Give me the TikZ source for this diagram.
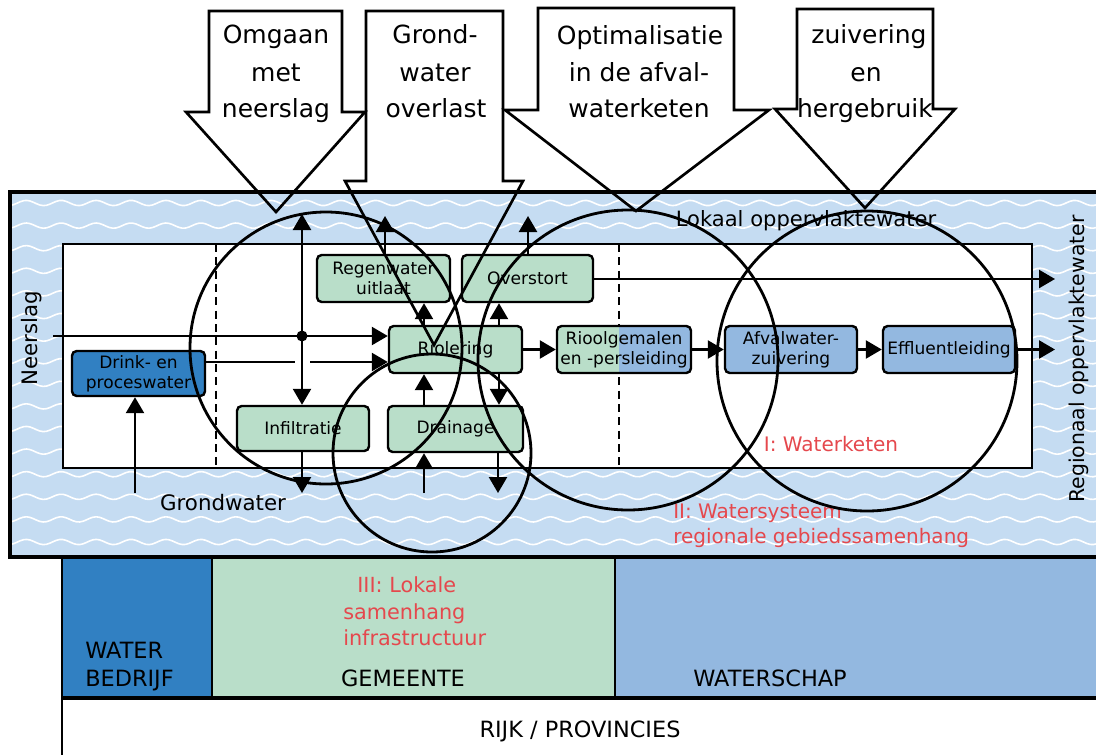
\documentclass[tikz,border=0pt]{standalone}
\usepackage{fontspec}
\setmainfont{DejaVu Sans}
\usetikzlibrary{arrows.meta}
\definecolor{bgblue}{HTML}{C5DCF2}
\definecolor{gfill}{HTML}{B9DEC9}
\definecolor{dblue}{HTML}{3180C2}
\definecolor{mblue}{HTML}{93B8E0}
\definecolor{redc}{HTML}{E5484D}
\begin{document}
\begin{tikzpicture}[x=0.75pt,y=-0.75pt,
  box/.style={draw, line width=1.8pt, rounded corners=3.5pt, inner sep=0pt, align=center,
    font=\fontsize{12.8}{15}\selectfont, fill=gfill},
  arr/.style={line width=1.8pt, -{Triangle[length=12pt,width=13.5pt]}},
  arrboth/.style={line width=1.8pt, {Triangle[length=12pt,width=13.5pt]}-{Triangle[length=12pt,width=13.5pt]}},
  circ/.style={line width=2.1pt},
  blockarr/.style={line width=2pt, line join=miter},
  toptxt/.style={anchor=base, inner sep=0pt, font=\fontsize{18.75}{22}\selectfont},
  lbl/.style={anchor=base, inner sep=0pt, font=\fontsize{16}{19}\selectfont},
  redlbl/.style={inner sep=0pt, text=redc, font=\fontsize{15}{18}\selectfont},
  bottxt/.style={anchor=base, inner sep=0pt, font=\fontsize{16.8}{20}\selectfont},
  dashln/.style={line width=1.7pt, dash pattern=on 6pt off 4pt}
]
\useasboundingbox (0,0) rectangle (1096,754);

% ---- blue water area with waves
\fill[bgblue] (10,192) rectangle (1100,557);
\begin{scope}
  \clip (10,192) rectangle (1100,557);
  \foreach \k in {0,...,15} {
    \draw[white, line width=1.2pt] plot[domain=10:1100, samples=330] (\x, {203+22.6*\k + 2.6*sin(\x*10.3)});
  }
\end{scope}
\draw[line width=2.4pt] (1100,192) -- (10,192) -- (10,557) -- (1100,557);

% ---- inner white area
\draw[line width=1.9pt, fill=white] (63,244) rectangle (1032,468);
\draw[dashln] (216,244) -- (216,468);
\draw[dashln] (619,244) -- (619,468);

% ---- bottom organisation bands
\fill[dblue] (62,559) rectangle (212,698);
\fill[gfill] (212,559) rectangle (615,698);
\fill[mblue] (615,559) rectangle (1100,698);
\draw[line width=2.2pt] (62,557) -- (62,760);
\draw[line width=2.2pt] (212,557) -- (212,698);
\draw[line width=2.2pt] (615,557) -- (615,698);
\draw[line width=2.4pt] (62,698) -- (1100,698);

\node[bottxt, anchor=base west] (wb1) at (85,658) {WATER};
\node[bottxt, anchor=base west] (wb2) at (85,686) {BEDRIJF};
\node[bottxt] (gem) at (403,686) {GEMEENTE};
\node[bottxt] (wsch) at (770,686) {WATERSCHAP};
\node[bottxt] (rijk) at (580,737) {RIJK / PROVINCIES};
\node[redlbl, anchor=base west, font=\fontsize{15.6}{18}\selectfont] (r3a) at (357,592) {III: Lokale};
\node[redlbl, anchor=base west, font=\fontsize{15.6}{18}\selectfont] (r3b) at (343,619) {samenhang};
\node[redlbl, anchor=base west, font=\fontsize{15.6}{18}\selectfont] (r3c) at (343,645) {infrastructuur};

% ---- split fill for Rioolgemalen
\begin{scope}
  \clip[rounded corners=3.5pt] (557,326) rectangle (691,373);
  \fill[gfill] (557,326) rectangle (619,373);
  \fill[mblue] (619,326) rectangle (691,373);
\end{scope}

% ---- nodes
\node[box, fill=dblue, minimum width=99.75pt, minimum height=33.75pt] (drink) at (138.5,373.5) {Drink- en\\proceswater};
\node[box, minimum width=99.75pt, minimum height=35.25pt] (reg) at (383.5,278.5) {Regenwater\\uitlaat};
\node[box, minimum width=98.25pt, minimum height=35.25pt] (ovs) at (527.5,278.5) {Overstort};
\node[box, minimum width=99.75pt, minimum height=35.25pt] (rio) at (455.5,349.5) {Riolering};
\node[box, fill=none, minimum width=100.5pt, minimum height=35.25pt] (rg) at (624,349.5) {Rioolgemalen\\en -persleiding};
\node[box, fill=mblue, minimum width=99pt, minimum height=35.25pt] (aw) at (791,349.5) {Afvalwater-\\zuivering};
\node[box, fill=mblue, minimum width=99pt, minimum height=35.25pt] (ef) at (949,349.5) {Effluentleiding};
\node[box, minimum width=99pt, minimum height=33.75pt] (inf) at (303,428.5) {Infiltratie};
\node[box, minimum width=101.25pt, minimum height=34.5pt] (dr) at (455.5,429) {Drainage};

% ---- coordinates
\coordinate (nstart) at (53,336);
\coordinate (dot) at (302,336);
\coordinate (vtop) at (302,214);
\coordinate (gapL) at (295,362);
\coordinate (gapR) at (310,362);
\coordinate (gw) at (135,493);
\coordinate (infd) at (302,493);
\coordinate (ru) at (385,216);
\coordinate (ou) at (528,216);
\coordinate (xL) at (424,0);
\coordinate (xR) at (499,0);
\coordinate (oright) at (1055,279);
\coordinate (eright) at (1055,349.5);
\coordinate (bu) at (424,493);
\coordinate (bd) at (498,493);

% ---- connectors
\draw[arr] (nstart) -- (nstart -| rio.west);
\draw[arrboth] (vtop) -- (dot |- inf.north);
\fill (dot) circle[radius=5.5];
\draw[line width=1.8pt] (drink.east |- gapL) -- (gapL);
\draw[arr] (gapR) -- (gapR -| rio.west);
\draw[arr] (gw) -- (gw |- drink.south);
\draw[arr] (inf.south -| infd) -- (infd);
\draw[arr] (ru |- reg.north) -- (ru);
\draw[arr] (rio.north -| xL) -- (reg.south -| xL);
\draw[arr] (rio.north -| xR) -- (ovs.south -| xR);
\draw[arr] (ou |- ovs.north) -- (ou);
\draw[arr] (ovs.east |- oright) -- (oright);
\draw[arr] (rio.east) -- (rg.west);
\draw[arr] (rg.east) -- (aw.west);
\draw[arr] (aw.east) -- (ef.west);
\draw[arr] (ef.east) -- (eright);
\draw[arr] (dr.north -| xL) -- (rio.south -| xL);
\draw[arr] (rio.south -| xR) -- (dr.north -| xR);
\draw[arr] (bu) -- (bu |- dr.south);
\draw[arr] (dr.south -| bd) -- (bd);

% ---- labels
\node[lbl, rotate=90, anchor=center] (neer) at (32,338) {Neerslag};
\node[lbl, rotate=90, anchor=center, font=\fontsize{15.3}{18}\selectfont] (regopp) at (1079,359) {Regionaal oppervlaktewater};
\node[lbl, font=\fontsize{15.8}{19}\selectfont] (lokopp) at (806,226) {Lokaal oppervlaktewater};
\node[lbl] (grondw) at (223,510) {Grondwater};
\node[redlbl, anchor=base] (wk) at (831,451) {I: Waterketen};
\node[redlbl, anchor=base west] (ws1) at (673,518) {II: Watersysteem};
\node[redlbl, anchor=base west] (ws2) at (673,543) {regionale gebiedssamenhang};

% ---- circles
\draw[circ] (326,348) circle[radius=136];
\draw[circ] (432,453) circle[radius=99];
\draw[circ] (628,360) circle[radius=150];
\draw[circ] (867,361) circle[radius=150];

% ---- block arrows
\draw[blockarr] (209,11) -- (342,11) -- (342,112) -- (365,112) -- (276,212) -- (186,112) -- (209,112) -- cycle;
\draw[blockarr] (366,11) -- (503,11) -- (503,181) -- (523,181) -- (434,345) -- (345,181) -- (366,181) -- cycle;
\draw[blockarr] (538,8) -- (734,8) -- (734,110) -- (769,110) -- (636,211) -- (505,110) -- (538,110) -- cycle;
\draw[blockarr] (797,9) -- (933,9) -- (933,109) -- (955,109) -- (865,208) -- (775,109) -- (797,109) -- cycle;

\node[toptxt] (t1a) at (276,43) {Omgaan};
\node[toptxt] (t1b) at (276,81) {met};
\node[toptxt] (t1c) at (276,117) {neerslag};
\node[toptxt] (t2a) at (435,43) {Grond-};
\node[toptxt] (t2b) at (435,81) {water};
\node[toptxt] (t2c) at (436,117) {overlast};
\node[toptxt] (t3a) at (640,44) {Optimalisatie};
\node[toptxt] (t3b) at (639,81) {in de afval-};
\node[toptxt] (t3c) at (639,117) {waterketen};
\node[toptxt] (t4a) at (869,43) {zuivering};
\node[toptxt] (t4b) at (866,81) {en};
\node[toptxt] (t4c) at (865,117) {hergebruik};
\end{tikzpicture}
\end{document}
